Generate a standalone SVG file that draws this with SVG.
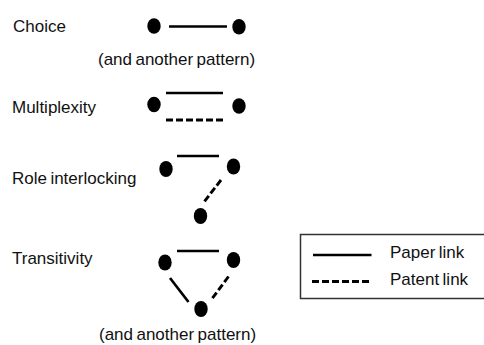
<svg xmlns="http://www.w3.org/2000/svg" width="484" height="345" viewBox="0 0 484 345">
<style>
text{font-family:"Liberation Sans",Arial,sans-serif;font-size:17px;fill:#111;word-spacing:-1.3px}
.dot{fill:#000}
.solid{stroke:#000;stroke-width:2.7;fill:none}
.dash{stroke:#000;stroke-width:2.9;fill:none;stroke-dasharray:7,3}
</style>
<rect width="484" height="345" fill="#fff"/>
<g id="labels">
<text x="13" y="32">Choice</text>
<text x="98" y="65">(and another pattern)</text>
<text x="12" y="113">Multiplexity</text>
<text x="12" y="184">Role interlocking</text>
<text x="12" y="264">Transitivity</text>
<text x="99" y="340">(and another pattern)</text>
</g>
<g id="connectors">
<line class="solid" x1="169" y1="26.5" x2="227" y2="26.5"/>
<line class="solid" x1="166" y1="93" x2="223" y2="93"/>
<line class="dash" x1="166" y1="120" x2="223" y2="120"/>
<line class="solid" x1="177" y1="156" x2="219" y2="156"/>
<line class="dash" x1="221" y1="180" x2="204" y2="202"/>
<line class="solid" x1="177" y1="251" x2="219" y2="251"/>
<line class="solid" x1="170" y1="278" x2="188.5" y2="302"/>
<line class="dash" x1="228.5" y1="276.5" x2="211.5" y2="299.5"/>
</g>
<g id="choice">
<ellipse class="dot" cx="154" cy="26" rx="6.7" ry="7.8"/>
<ellipse class="dot" cx="239" cy="26.7" rx="6.7" ry="7.8"/>
</g>
<g id="multiplexity">
<ellipse class="dot" cx="154" cy="104.5" rx="6.7" ry="7.8"/>
<ellipse class="dot" cx="239" cy="106" rx="6.7" ry="7.8"/>
</g>
<g id="role-interlocking">
<ellipse class="dot" cx="166" cy="169" rx="6.7" ry="8"/>
<ellipse class="dot" cx="233.5" cy="166.5" rx="6.7" ry="8"/>
<ellipse class="dot" cx="200.5" cy="216" rx="6.7" ry="8"/>
</g>
<g id="transitivity">
<ellipse class="dot" cx="165" cy="262.5" rx="6.7" ry="8"/>
<ellipse class="dot" cx="233.5" cy="260" rx="6.7" ry="8"/>
<ellipse class="dot" cx="201" cy="309" rx="6.7" ry="8"/>
</g>
<g id="legend">
<rect x="300.5" y="234.5" width="190" height="64" fill="none" stroke="#333" stroke-width="1.5"/>
<line class="solid" x1="313" y1="255" x2="371.5" y2="255"/>
<line class="dash" x1="312" y1="281.5" x2="370" y2="281.5"/>
<text x="390" y="258">Paper link</text>
<text x="390" y="285">Patent link</text>
</g>
</svg>
